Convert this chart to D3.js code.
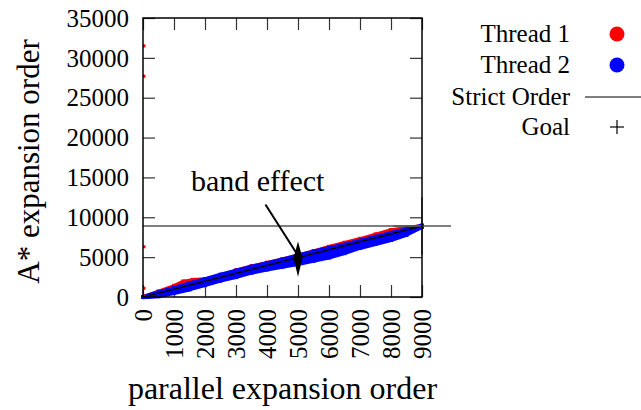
<!DOCTYPE html>
<html lang="en">
<head>
<meta charset="utf-8">
<title>band effect</title>
<script src="https://cdnjs.cloudflare.com/ajax/libs/d3/7.8.5/d3.min.js"></script>
<style>
  body { margin: 0; background: #fff; }
  svg text { font-family: "Liberation Serif", "DejaVu Serif", serif; fill: #000; }
</style>
</head>
<body>
<div id="vis"></div>
<script>
// ---- data ----
var xTicks = [0, 1000, 2000, 3000, 4000, 5000, 6000, 7000, 8000, 9000];
var yTicks = [0, 5000, 10000, 15000, 20000, 25000, 30000, 35000];

// thread 1 (red) strands: [parallel order, A* order]
var thread1Upper = [[0,0],[500,700],[1000,1400],[1300,1950],[1600,2150],[2000,2250],[2300,2450],[2600,2800],
  [3000,3350],[3500,3850],[4000,4300],[4500,4750],[5000,5250],[5500,5750],[6000,6300],[6500,6800],
  [7000,7300],[7500,7850],[8000,8400],[8500,8700],[9000,8950]];
var thread1Mid = [[0,0],[1000,900],[2000,1900],[3000,2950],[4000,4000],[5000,5000],[6000,5950],
  [7000,6950],[8000,8000],[9000,8900]];
var thread1Outliers = [[0,31500],[0,27700],[0,6300],[0,1100],[0,150]];

// thread 2 (blue) strands
var thread2Upper = [[0,0],[500,600],[1000,1150],[1500,1700],[2000,2250],[2500,2800],[3000,3300],
  [3500,3800],[4000,4250],[4500,4700],[5000,5200],[5500,5700],[6000,6150],[6500,6550],[7000,7050],
  [7500,7550],[8000,8050],[8500,8500],[9000,8950]];
var thread2Mid = [[0,0],[500,300],[1000,800],[1500,1300],[2000,1800],[2500,2350],[3000,2850],
  [3500,3400],[4000,3850],[4500,4300],[5000,4750],[5500,5200],[6000,5650],[6500,6150],[7000,6650],
  [7500,7200],[8000,7750],[8500,8300],[9000,8900]];
var thread2Low = [[0,0],[500,200],[1000,650],[1500,1100],[2000,1600],[2500,2150],[3000,2650],
  [3500,3150],[4000,3600],[4500,4000],[5000,4450],[5500,4850],[6000,5300],[6500,5800],[7000,6350],
  [7500,6900],[8000,7450],[8500,8050],[9000,8850]];
var thread2Lower = [[0,0],[500,100],[1000,500],[1500,950],[2000,1500],[2500,2050],[3000,2500],
  [3500,3050],[4000,3450],[4500,3800],[5000,4150],[5500,4550],[6000,4950],[6500,5500],[7000,6150],
  [7500,6650],[8000,7150],[8500,7800],[9000,8800]];

var strictOrder = [[0,0],[9000,8900]];
var goal = [9000, 8900];

var legendLabels = ['Thread 1', 'Thread 2', 'Strict Order', 'Goal'];

// ---- layout ----
var W = 641, H = 410;
var margin = {left: 143, top: 18, right: 219, bottom: 113};
var width = W - margin.left - margin.right;
var height = H - margin.top - margin.bottom;

var svg = d3.select('#vis').append('svg')
    .attr('width', W).attr('height', H);

var g = svg.append('g')
    .attr('transform', 'translate(' + margin.left + ',' + margin.top + ')');

var x = d3.scaleLinear().domain([0, 9000]).range([0, width]);
var y = d3.scaleLinear().domain([0, 35000]).range([height, 0]);

// ticks (inward, mirrored)
var tickLen = 12;
g.append('g').attr('transform', 'translate(0,' + height + ')')
    .call(d3.axisBottom(x).tickValues(xTicks).tickSize(-tickLen).tickFormat(''))
    .call(function(s) { s.select('.domain').remove(); });
g.append('g')
    .call(d3.axisTop(x).tickValues(xTicks).tickSize(-tickLen).tickFormat(''))
    .call(function(s) { s.select('.domain').remove(); });
g.append('g')
    .call(d3.axisLeft(y).tickValues(yTicks).tickSize(-tickLen).tickFormat(''))
    .call(function(s) { s.select('.domain').remove(); });
g.append('g').attr('transform', 'translate(' + width + ',0)')
    .call(d3.axisRight(y).tickValues(yTicks).tickSize(-tickLen).tickFormat(''))
    .call(function(s) { s.select('.domain').remove(); });
g.selectAll('.tick line').attr('stroke', '#333').attr('stroke-width', 1.2);

// tick labels
g.selectAll('.ylab').data(yTicks).enter().append('text')
    .attr('class', 'ylab')
    .attr('x', -14).attr('y', function(d) { return y(d); })
    .attr('dy', '0.35em')
    .attr('text-anchor', 'end')
    .style('font-size', '25px')
    .text(function(d) { return d; });

g.selectAll('.xlab').data(xTicks).enter().append('text')
    .attr('class', 'xlab')
    .attr('transform', function(d) { return 'translate(' + x(d) + ',' + (height + 12) + ') rotate(-90)'; })
    .attr('dy', '0.35em')
    .attr('text-anchor', 'end')
    .style('font-size', '25px')
    .text(function(d) { return d; });

// axis titles
svg.append('text')
    .attr('x', margin.left + width / 2) .attr('y', 399)
    .attr('text-anchor', 'middle')
    .style('font-size', '32px')
    .text('parallel expansion order');
svg.append('text')
    .attr('transform', 'translate(39,' + (margin.top + height / 2 + 4) + ') rotate(-90)')
    .attr('text-anchor', 'middle')
    .style('font-size', '31px')
    .text('A* expansion order');

// strands
var line = d3.line()
    .x(function(d) { return x(d[0]); })
    .y(function(d) { return y(d[1]); });

function strand(data, color, w) {
  g.append('path').datum(data)
    .attr('fill', 'none').attr('stroke', color)
    .attr('stroke-width', w).attr('stroke-linejoin', 'round')
    .attr('d', line);
  g.selectAll(null).data(data).enter().append('rect')
    .attr('x', function(d) { return x(d[0]) - 2; })
    .attr('y', function(d) { return y(d[1]) - 2; })
    .attr('width', 4).attr('height', 4)
    .attr('fill', color);
}

strand(thread1Upper, '#ff0000', 3.5);
strand(thread1Mid, '#ff0000', 3);
strand(thread2Upper, '#0000ff', 4);
strand(thread2Mid, '#0000ff', 4.5);
strand(thread2Low, '#0000ff', 4.5);
strand(thread2Lower, '#0000ff', 4);

g.selectAll('.out').data(thread1Outliers).enter().append('rect')
    .attr('class', 'out')
    .attr('x', function(d) { return x(d[0]); })
    .attr('y', function(d) { return y(d[1]) - 1.5; })
    .attr('width', 2.5).attr('height', 3)
    .attr('fill', '#ff0000');

// strict order
g.append('path').datum(strictOrder)
    .attr('fill', 'none').attr('stroke', '#000').attr('stroke-width', 1.5)
    .attr('d', line);

// goal: horizontal line and plus
g.append('line')
    .attr('x1', x(0)).attr('x2', x(goal[0]))
    .attr('y1', y(goal[1])).attr('y2', y(goal[1]))
    .attr('stroke', '#555').attr('stroke-width', 1.5);
var arm = 29;
g.append('line')
    .attr('x1', x(goal[0]) - arm).attr('x2', x(goal[0]) + arm)
    .attr('y1', y(goal[1])).attr('y2', y(goal[1]))
    .attr('stroke', '#555').attr('stroke-width', 1.5);
g.append('line')
    .attr('x1', x(goal[0])).attr('x2', x(goal[0]))
    .attr('y1', y(goal[1]) - arm).attr('y2', y(goal[1]) + arm)
    .attr('stroke', '#555').attr('stroke-width', 1.5);

// frame
g.append('rect')
    .attr('width', width).attr('height', height)
    .attr('fill', 'none').attr('stroke', '#000').attr('stroke-width', 1.5);

// annotation
g.append('text')
    .attr('x', x(3700)).attr('y', y(13300))
    .attr('text-anchor', 'middle')
    .style('font-size', '30px')
    .text('band effect');
g.append('line')
    .attr('x1', x(3950)).attr('y1', y(11600))
    .attr('x2', x(5000)).attr('y2', y(5200))
    .attr('stroke', '#000').attr('stroke-width', 2);
var ax = x(5000), aMid = y(4900);
g.append('path')
    .attr('d', 'M' + ax + ',' + y(6950) + 'L' + (ax + 4.5) + ',' + aMid + 'L' + ax + ',' + y(2550) +
      'L' + (ax - 4.5) + ',' + aMid + 'Z')
    .attr('fill', '#000');

// legend
var legendY = [34, 65, 97, 127];
var lg = svg.append('g');
lg.selectAll('text').data(legendLabels).enter().append('text')
    .attr('x', 570).attr('y', function(d, i) { return legendY[i]; })
    .attr('dy', '0.33em')
    .attr('text-anchor', 'end')
    .style('font-size', '25px')
    .text(function(d) { return d; });
lg.append('circle').attr('cx', 617).attr('cy', legendY[0]).attr('r', 7.5).attr('fill', '#ff0000');
lg.append('circle').attr('cx', 617).attr('cy', legendY[1]).attr('r', 7.5).attr('fill', '#0000ff');
lg.append('line').attr('x1', 585).attr('x2', 641).attr('y1', legendY[2]).attr('y2', legendY[2])
    .attr('stroke', '#000').attr('stroke-width', 1.2);
lg.append('line').attr('x1', 610).attr('x2', 624).attr('y1', legendY[3]).attr('y2', legendY[3])
    .attr('stroke', '#000').attr('stroke-width', 1.2);
lg.append('line').attr('x1', 617).attr('x2', 617).attr('y1', legendY[3] - 7).attr('y2', legendY[3] + 7)
    .attr('stroke', '#000').attr('stroke-width', 1.2);
</script>
</body>
</html>
